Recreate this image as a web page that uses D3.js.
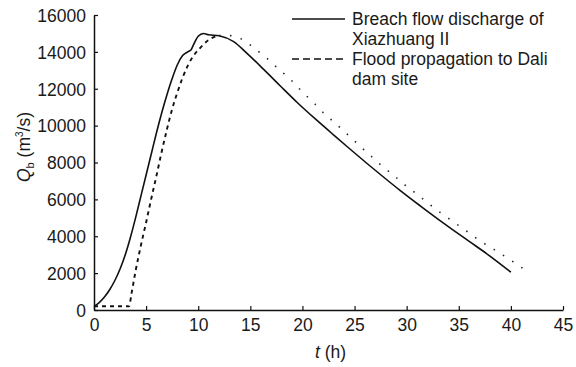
<!DOCTYPE html>
<html><head><meta charset="utf-8">
<script src="https://cdn.jsdelivr.net/npm/d3@7/dist/d3.min.js"></script>
<style>
html,body{margin:0;padding:0;background:#fff;}
text{font-family:"Liberation Sans",Arial,sans-serif;fill:#1a1a1a;}
</style></head><body>
<svg id="c" width="576" height="367"></svg>
<script>
// Breach flow discharge of Xiazhuang II
const solidT = [0, 0.5, 1.0, 1.5, 2.0, 2.5, 3.0, 3.5, 4.0, 4.5, 5.0, 5.5, 6.0, 6.5, 7.0, 7.5, 8.0, 8.5, 9.0, 9.3, 9.6, 10.0, 10.5, 11.0, 12.0, 13.4, 14.68, 16.28, 17.88, 19.47, 21.4, 22.98, 24.5, 26.17, 27.8, 29.36, 31.3, 33.2, 34.5, 36.0, 37.66, 40];
const solidQ = [200, 400, 700, 1100, 1600, 2225, 3000, 3950, 5025, 6175, 7325, 8475, 9625, 10700, 11680, 12550, 13300, 13800, 14000, 14100, 14450, 14850, 15000, 14930, 14870, 14560, 13920, 13050, 12150, 11270, 10280, 9500, 8760, 7960, 7200, 6490, 5650, 4850, 4320, 3720, 3060, 2050];
// Flood propagation to Dali dam site
const dashT = [0, 3.36, 3.6, 4.0, 4.5, 5.0, 5.5, 6.0, 6.5, 7.0, 7.5, 8.0, 8.5, 9.0, 9.5, 10.0, 10.5, 11.0, 11.5, 12.0, 12.6, 13.1, 14.0, 15.0, 15.8, 16.6, 17.4, 18.2, 19.0, 19.6, 20.4, 21.2, 22.0, 23.0, 23.93, 24.83, 25.75, 26.65, 27.6, 28.8, 29.84, 30.96, 32.07, 33.2, 34.46, 35.74, 37.02, 38.36, 40.2, 41.6];
const dashQ = [200, 200, 900, 2150, 3500, 4750, 6050, 7300, 8600, 9800, 10900, 11800, 12600, 13250, 13750, 14100, 14400, 14650, 14800, 14880, 14910, 14880, 14733, 14370, 14007, 13650, 13232, 12836, 12418, 12060, 11605, 11171, 10700, 10200, 9724, 9257, 8769, 8313, 7825, 7283, 6779, 6290, 5786, 5300, 4789, 4284, 3759, 3292, 2620, 2078];
const xTicks = [0, 5, 10, 15, 20, 25, 30, 35, 40, 45];
const yTicks = [0, 2000, 4000, 6000, 8000, 10000, 12000, 14000, 16000];
const legendLabels = [["Breach flow discharge of", "Xiazhuang II"], ["Flood propagation to Dali", "dam site"]];

const svg = d3.select("#c");
const L = 94, R = 563, T = 15, B = 310;
const x = d3.scaleLinear().domain([0, 45]).range([L, R]);
const y = d3.scaleLinear().domain([0, 16000]).range([B, T]);

const fs = 17.5;
const gx = svg.append("g").attr("transform", `translate(0,${B})`)
  .call(d3.axisBottom(x).tickValues(xTicks).tickFormat(d3.format("d")).tickSize(-4).tickSizeOuter(0).tickPadding(9));
const gy = svg.append("g").attr("transform", `translate(${L},0)`)
  .call(d3.axisLeft(y).tickValues(yTicks).tickFormat(d3.format("d")).tickSize(-4).tickSizeOuter(0).tickPadding(8));
[gx, gy].forEach(g => {
  g.select(".domain").attr("stroke", "#111").attr("stroke-width", 1.5);
  g.selectAll(".tick line").attr("stroke", "#111").attr("stroke-width", 1.2);
  g.selectAll(".tick text").attr("font-size", fs).attr("font-family", "Liberation Sans, Arial, sans-serif").attr("fill", "#1a1a1a");
});
gy.selectAll(".tick text").attr("dy", "0.36em");

const line = d3.line().x(d => x(d[0])).y(d => y(d[1])).curve(d3.curveMonotoneX);
const solid = solidT.map((t, i) => [t, solidQ[i]]);
const dash = dashT.map((t, i) => [t, dashQ[i]]);
const split = dashT.indexOf(12.0);

svg.append("path").attr("d", line(solid)).attr("fill", "none").attr("stroke", "#111").attr("stroke-width", 1.6);
svg.append("path").attr("d", line(dash.slice(0, split + 1))).attr("fill", "none").attr("stroke", "#111")
  .attr("stroke-width", 1.9).attr("stroke-dasharray", "4,4");
svg.append("path").attr("d", line(dash.slice(split))).attr("fill", "none").attr("stroke", "#222")
  .attr("stroke-width", 1.6).attr("stroke-dasharray", "1.5,9.5");

// axis titles
svg.append("text").attr("x", x(22.5) + 2).attr("y", 358).attr("text-anchor", "middle").attr("font-size", fs)
  .call(t => { t.append("tspan").attr("font-style", "italic").text("t"); t.append("tspan").text(" (h)"); });
const yt = svg.append("text").attr("transform", "translate(30,147) rotate(-90)").attr("text-anchor", "middle").attr("font-size", fs);
yt.append("tspan").attr("font-style", "italic").text("Q");
yt.append("tspan").attr("font-size", 11).attr("dy", 4).text("b");
yt.append("tspan").attr("dy", -4).text(" (m");
yt.append("tspan").attr("font-size", 10).attr("dy", -7).text("3");
yt.append("tspan").attr("dy", 7).text("/s)");

// legend
const legY = [19, 59];
const styles = [null, "7,4"];
legendLabels.forEach((lab, i) => {
  svg.append("line").attr("x1", 292).attr("x2", 345).attr("y1", legY[i]).attr("y2", legY[i])
    .attr("stroke", "#111").attr("stroke-width", 1.6).attr("stroke-dasharray", styles[i]);
  lab.forEach((s, j) => {
    svg.append("text").attr("x", 352).attr("y", legY[i] + 6 + j * 20).attr("font-size", fs).text(s);
  });
});
</script></body></html>
